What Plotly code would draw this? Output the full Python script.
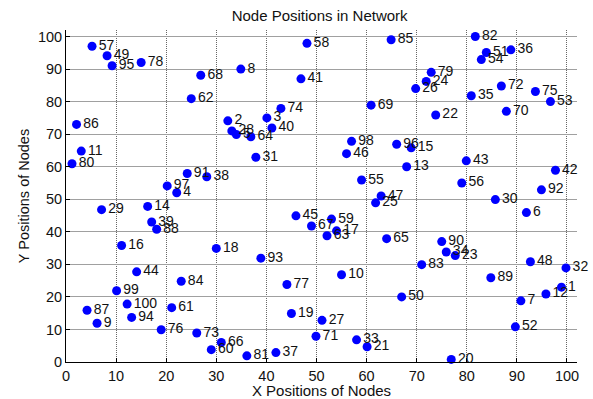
import plotly.graph_objects as go

# Node identifiers and their coordinates in the network field
node_ids = list(range(1, 101))

x_pos = [
    98.9, 32.3, 40.1, 22.1, 34.0, 91.9, 90.8, 34.9, 6.2, 55.0,      # 1-10
    3.05, 95.8, 68.0, 16.3, 68.9, 11.1, 54.0, 30.0, 45.0, 76.9,     # 11-20
    60.1, 73.8, 77.7, 71.9, 61.8, 69.8, 51.1, 33.1, 7.1, 85.7,      # 21-30
    37.9, 99.8, 58.0, 75.9, 80.9, 88.8, 41.9, 28.1, 17.1, 41.1,     # 31-40
    46.9, 97.7, 79.9, 14.1, 45.9, 56.0, 62.9, 92.7, 8.2, 67.0,      # 41-50
    83.9, 89.7, 96.7, 82.9, 59.0, 79.0, 5.2, 48.1, 53.0, 29.0,      # 51-60
    21.1, 25.0, 52.1, 36.9, 64.0, 31.0, 49.0, 26.9, 60.9, 87.9,     # 61-70
    49.9, 86.9, 26.1, 42.9, 93.7, 19.0, 44.1, 15.0, 72.9, 1.2,      # 71-80
    36.1, 81.7, 71.0, 23.0, 64.9, 2.1, 4.2, 18.1, 84.8, 75.0,       # 81-90
    24.2, 94.9, 38.9, 13.1, 9.2, 66.0, 20.2, 57.0, 10.1, 12.2,      # 91-100
]

y_pos = [
    23.0, 74.1, 75.0, 52.0, 69.9, 45.9, 18.8, 90.0, 11.9, 26.8,     # 1-10
    64.8, 20.9, 60.0, 47.8, 65.8, 35.8, 40.3, 34.9, 14.9, 0.8,      # 11-20
    4.7, 75.9, 32.7, 86.2, 48.9, 84.0, 12.8, 71.0, 46.8, 49.9,      # 21-30
    62.9, 28.9, 6.8, 33.8, 81.8, 95.9, 2.9, 56.9, 43.0, 71.9,       # 31-40
    87.0, 58.9, 61.8, 27.7, 44.9, 64.0, 51.0, 30.8, 94.1, 20.0,     # 41-50
    95.1, 10.8, 80.0, 92.9, 55.9, 55.0, 97.0, 97.9, 43.9, 3.8,      # 51-60
    16.7, 80.9, 38.8, 69.2, 37.9, 6.0, 41.8, 88.1, 78.9, 77.0,      # 61-70
    7.9, 84.8, 8.9, 77.9, 83.1, 9.9, 23.8, 92.0, 89.0, 60.9,        # 71-80
    1.9, 100.0, 29.9, 24.8, 99.0, 73.0, 15.9, 40.8, 25.9, 37.0,     # 81-90
    57.9, 52.9, 31.9, 13.7, 91.0, 66.9, 54.1, 67.8, 21.9, 17.8,     # 91-100
]

axis_range = [0, 102]
tick_vals = [0, 10, 20, 30, 40, 50, 60, 70, 80, 90, 100]

FONT = "Liberation Sans, Arial, Helvetica, sans-serif"
INK = "#111111"

fig = go.Figure()

fig.add_trace(go.Scatter(
    x=x_pos,
    y=y_pos,
    mode="markers+text",
    text=[str(n) for n in node_ids],
    textposition="middle right",
    textfont=dict(family=FONT, size=14, color=INK),
    marker=dict(color="#0000ff", size=9, line=dict(width=0)),
    cliponaxis=False,
    hoverinfo="x+y+text",
    showlegend=False,
))

fig.update_layout(
    width=593,
    height=399,
    margin=dict(l=66, r=16, t=30, b=37),
    paper_bgcolor="white",
    plot_bgcolor="white",
    font=dict(family=FONT, size=14, color=INK),
    title=dict(
        text="Node Positions in Network",
        x=0.539,
        xanchor="center",
        y=0.96,
        yanchor="middle",
        font=dict(family=FONT, size=15, color=INK),
    ),
)

fig.update_xaxes(
    range=axis_range,
    tickvals=tick_vals,
    automargin=False,
    showgrid=True,
    gridcolor="#666666",
    griddash="1px,1px",
    gridwidth=1,
    zeroline=False,
    showline=True,
    linecolor="black",
    linewidth=1,
    ticks="inside",
    ticklen=4,
    tickcolor="black",
    ticklabelstandoff=1,
    tickfont=dict(family=FONT, size=14.5, color=INK),
    title=dict(text="X Positions of Nodes", standoff=6,
               font=dict(family=FONT, size=15, color=INK)),
)

fig.update_yaxes(
    range=axis_range,
    tickvals=tick_vals,
    automargin=False,
    showgrid=True,
    gridcolor="#a0a0a0",
    gridwidth=1,
    zeroline=False,
    showline=True,
    linecolor="black",
    linewidth=1,
    ticks="inside",
    ticklen=4,
    tickcolor="black",
    tickfont=dict(family=FONT, size=14.5, color=INK),
    title=dict(text="Y Positions of Nodes", standoff=4,
               font=dict(family=FONT, size=14.5, color=INK)),
)

fig.write_html("out.html")
